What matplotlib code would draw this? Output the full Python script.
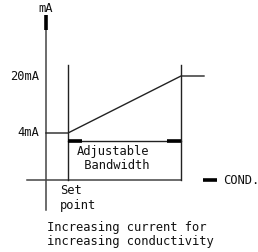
import matplotlib
matplotlib.use("Agg")
import matplotlib.pyplot as plt

# ---- data (schematic) ----
current_levels = [4, 20]          # mA
level_labels = ["4mA", "20mA"]
setpoint = 0.0                    # conductivity units (start of band)
bandwidth = 1.0                   # adjustable bandwidth
y_label = "mA"
x_label = "COND."
band_text = "Adjustable\n Bandwidth"
setpoint_text = "Set\npoint"
caption = "Increasing current for\nincreasing conductivity"

# ---- layout: pixel <-> data mapping ----
W, H = 258, 252
X0PX, XSCALE = 68, 113.0          # px of setpoint, px per cond unit
Y4PX, YSCALE = 133, 57.0 / 16.0   # px of 4mA, px per mA

def dx(p):
    return setpoint + (p - X0PX) / XSCALE

def dy(p):
    return current_levels[0] - (p - Y4PX) / YSCALE

fig = plt.figure(figsize=(W / 100, H / 100), dpi=100)
ax = fig.add_axes([0, 0, 1, 1])
ax.set_xlim(dx(0), dx(W))
ax.set_ylim(dy(H), dy(0))
ax.axis("off")

lc = "#222222"
font = dict(family="DejaVu Sans Mono", fontsize=8.7, color="#111111")
thick = 2.6

# vertical mA axis
ax.plot([dx(46), dx(46)], [dy(30), dy(210)], color="#444444", lw=1.1)
ax.plot([dx(46), dx(46)], [dy(15), dy(30)], color="black", lw=thick, solid_capstyle="butt")
ax.text(dx(46), dy(9), y_label, ha="center", va="center", **font)

# horizontal COND axis
ax.plot([dx(27), dx(181)], [dy(180), dy(180)], color="#444444", lw=1.1)
ax.plot([dx(203), dx(217)], [dy(180), dy(180)], color="black", lw=thick, solid_capstyle="butt")
ax.text(dx(223), dy(180), x_label, ha="left", va="center", **font)

# band boundaries
x_lo, x_hi = setpoint, setpoint + bandwidth
for xv in (x_lo, x_hi):
    ax.plot([xv, xv], [dy(65), dy(180)], color=lc, lw=1.0)

# response curve
cx = [dx(46), x_lo, x_hi, dx(204)]
cy = [current_levels[0], current_levels[0], current_levels[1], current_levels[1]]
ax.plot(cx, cy, color=lc, lw=1.0)

# level labels
for lv, lab in zip(current_levels, level_labels):
    ax.text(dx(39), lv, lab, ha="right", va="center", **font)

# bandwidth indicator
by = dy(141)
ax.plot([x_lo, x_hi], [by, by], color=lc, lw=1.0)
ax.plot([x_lo, dx(82)], [by, by], color="black", lw=thick, solid_capstyle="butt")
ax.plot([dx(167), x_hi], [by, by], color="black", lw=thick, solid_capstyle="butt")
ax.text(dx(77), dy(158.5), band_text, ha="left", va="center", linespacing=1.15, **font)

# set point label
ax.text(dx(60), dy(198), setpoint_text, ha="left", va="center", linespacing=1.15, **font)

# caption
ax.text(dx(47), dy(234.5), caption, ha="left", va="center", linespacing=1.15, **font)

fig.savefig("out.png", dpi=100, facecolor="white")
